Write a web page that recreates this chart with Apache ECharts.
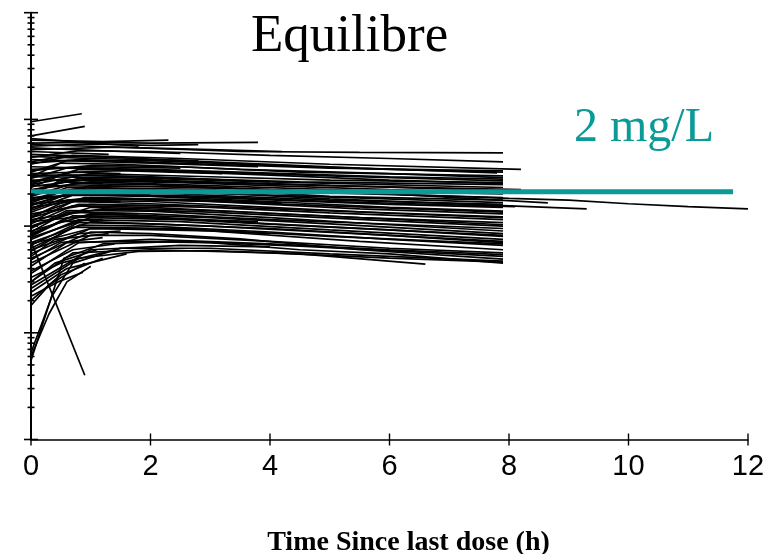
<!DOCTYPE html>
<html>
<head>
<meta charset="utf-8">
<script src="https://cdn.jsdelivr.net/npm/echarts@6/dist/echarts.min.js"></script>
<style>html,body{margin:0;padding:0;background:#fff;overflow:hidden;}#c{width:769px;height:554px;}</style>
</head>
<body>
<div id="c"></div>
<script>
// ---- texts ----
const chartTitle = 'Equilibre';
const targetLabel = '2 mg/L';
const xAxisName = 'Time Since last dose (h)';

// ---- axis ticks ----
const xTicks = [0, 2, 4, 6, 8, 10, 12];
const yDecades = [0.01, 0.1, 1, 10, 100];
const yMinorMult = [2, 3, 4, 5, 6, 7, 8, 9];

// ---- target concentration line ----
const targetTimes = [0, 11.75];
const targetConc = [2.1, 2.1];

// ---- individual profiles [time (h), concentration (mg/L)] ----
const upperProfiles = [
  [[0,9.5],[0.85,11.3]],
  [[0,7.0],[0.9,8.6]],
  [[0,6.4],[1.2,6.2],[2.3,6.4]],
  [[0,6.6],[1.8,5.6]],
  [[0,6.0],[1,6.1],[2,6.0],[3.8,6.1]],
  [[0,5.8],[1,5.6],[3.5,5.0],[5.5,4.9],[7.9,4.85]],
  [[0,4.4],[0.8,5.1],[2,5.0],[4,4.6],[6,4.3],[7.9,4.0]],
  [[0,3.8],[0.7,4.6],[2.5,4.3],[5,3.8],[8.2,3.4]],
  [[0,3.2],[0.6,4.1],[2,4.1],[4,3.7],[6,3.4],[7.9,3.2]],
  [[0,4.7],[1,4.5],[3,4.0],[5.5,3.5],[7.8,3.15]],
  [[0,2.9],[0.5,3.9],[1.5,3.8],[3.5,3.4],[6,3.1],[7.9,2.85]],
  [[0,3.6],[1,3.5],[3,3.2],[5,2.95],[7.9,2.65]],
  [[0,5.6],[1,5.9],[2,5.7],[2.8,5.8]],
  [[0,5.2],[1.4,5.5],[3,5.2],[4.2,5.0]]
];
const middleProfiles = [
  [[0,2.5],[0.8,3.4],[2,3.3],[4,3.0],[6,2.7],[7.9,2.5]],
  [[0,3.0],[1,3.0],[2.5,2.8],[4.5,2.6],[7.9,2.45]],
  [[0,2.3],[0.5,3.0],[2,2.9],[4,2.6],[7.9,2.3]],
  [[0,2.7],[1.5,2.7],[3,2.55],[5,2.4],[8.2,2.2]],
  [[0,2.2],[1,2.6],[3,2.4],[6,2.1],[7.9,2.0]],
  [[0,1.9],[0.7,2.5],[2,2.45],[4,2.2],[6,2.0],[8.65,1.65]],
  [[0,2.0],[1,2.3],[3,2.2],[5,1.9],[7.9,1.75]],
  [[0,1.7],[0.6,2.3],[2,2.2],[5,1.8],[9.3,1.45]],
  [[0,1.6],[0.8,2.1],[2.5,2.0],[5,1.75],[7.9,1.6]],
  [[0,1.85],[1,2.0],[3,1.9],[5,1.7],[8.1,1.52]],
  [[0,1.4],[0.7,1.95],[2,1.9],[4,1.7],[6,1.5],[7.9,1.38]],
  [[0,1.5],[1,1.8],[3,1.7],[5.5,1.45],[7.9,1.3]],
  [[0,1.2],[0.6,1.75],[2,1.7],[4,1.5],[6,1.32],[7.9,1.2]],
  [[0,1.3],[1,1.6],[3,1.5],[5,1.33],[7.9,1.15]],
  [[0,1.05],[0.7,1.55],[2,1.5],[4,1.32],[6,1.16],[7.9,1.03]],
  [[0,1.15],[1.2,1.45],[3,1.35],[6,1.12],[7.9,1.0]]
];
const denseProfiles = [
  [[0,4.5],[1,4.3],[2.8,4.1]],
  [[0,3.9],[0.8,4.2],[3,3.8],[5,3.5],[7.9,3.3]],
  [[0,3.3],[1,3.7],[2.5,3.6],[4.5,3.2],[7.9,2.95]],
  [[0,2.8],[0.6,3.5],[2,3.4],[6,2.9],[7.9,2.75]],
  [[0,2.45],[1,3.1],[3,2.9],[5,2.7],[7.9,2.55]],
  [[0,2.15],[0.8,2.8],[2,2.7],[4,2.5],[7.9,2.15]],
  [[0,1.95],[0.5,2.7],[2.5,2.55],[6,2.2],[7.9,2.05]],
  [[0,1.8],[1,2.4],[3,2.3],[5,2.05],[7.9,1.85]],
  [[0,1.55],[0.8,2.2],[2,2.1],[4,1.95],[7.9,1.66]],
  [[0,1.45],[0.6,2.0],[3,1.85],[6,1.6],[7.9,1.5]],
  [[0,1.25],[0.9,1.85],[2.5,1.75],[5,1.55],[7.9,1.35]],
  [[0,1.1],[0.7,1.7],[2,1.62],[4.5,1.42],[7.9,1.22]],
  [[0,0.98],[1,1.5],[3,1.4],[5.5,1.2],[7.9,1.08]],
  [[0,0.88],[0.6,1.35],[2,1.3],[4,1.15],[7.9,0.95]],
  [[0,0.78],[1,1.2],[2.5,1.15],[5,0.98],[7.9,0.82]],
  [[0,0.66],[0.8,1.08],[2,1.05],[4,0.95],[6,0.82],[7.9,0.7]],
  [[0,0.58],[0.7,0.98],[2.5,0.95],[5,0.8],[7.9,0.68]],
  [[0,0.45],[1,0.82],[2,0.82],[4,0.72],[6,0.62],[7.9,0.56]],
  [[0,0.36],[0.8,0.7],[2,0.75],[4,0.68],[6,0.6],[7.9,0.54]],
  [[0,0.28],[1,0.6],[2.5,0.66],[4,0.64]],
  [[0,3.1],[1.5,3.3],[3.2,3.1]],
  [[0,2.35],[1,2.75],[2.2,2.7]],
  [[0,1.65],[0.5,2.1],[1.8,2.05]],
  [[0,1.2],[0.8,1.6],[2.6,1.55]],
  [[0,0.82],[0.6,1.2],[1.7,1.25]],
  [[0,0.52],[0.4,0.75],[1.3,0.85]]
];
const lowerProfiles = [
  [[0,0.95],[0.6,1.4],[2,1.38],[4,1.2],[6,1.03],[7.9,0.9]],
  [[0,0.9],[1,1.3],[3,1.2],[5,1.05],[7.9,0.85]],
  [[0,0.8],[0.7,1.25],[2,1.22],[4,1.05],[6,0.92],[7.9,0.8]],
  [[0,0.75],[0.8,1.15],[2.5,1.1],[5,0.92],[7.9,0.75]],
  [[0,0.7],[1,1.1],[3,1.0],[6,0.82],[7.9,0.72]],
  [[0,0.62],[0.8,1.02],[2,1.0],[4,0.88],[6,0.75],[7.9,0.66]],
  [[0,0.55],[1,0.95],[3,0.9],[5.5,0.72],[7.9,0.6]],
  [[0,0.5],[1,0.88],[2,0.85],[3.5,0.76],[5.5,0.6],[7.9,0.49]],
  [[0,0.42],[0.6,0.7],[1.5,0.72],[3,0.7],[4.5,0.6],[6,0.55],[7.9,0.45]],
  [[0,0.26],[0.8,0.5],[1.8,0.58],[3,0.59],[4.5,0.55],[6.6,0.44]],
  [[0,0.3],[0.7,0.56],[2,0.6],[4,0.56],[6,0.5],[7.9,0.46]],
  [[0,0.055],[0.55,0.5],[1.2,0.68],[2.5,0.72],[4.5,0.65],[7.9,0.52]],
  [[0,0.065],[0.35,0.22],[0.7,0.45],[1.5,0.62],[3,0.62],[5,0.55],[7.9,0.47]]
];
const earlyProfiles = [
  [[0,0.72],[0.9,0.04]],
  [[0,0.33],[0.5,0.45],[1.5,0.62]],
  [[0,0.22],[0.45,0.3],[0.87,0.37]],
  [[0,0.2],[0.5,0.35],[1.2,0.5]],
  [[0,0.18],[0.3,0.28],[0.9,0.45]],
  [[0,0.06],[0.3,0.15],[0.6,0.3],[1,0.42]],
  [[0,5.0],[1.3,4.7]],
  [[0,4.0],[0.5,4.5],[1.5,4.4]],
  [[0,3.4],[1,3.6],[2.5,3.5]],
  [[0,2.6],[0.7,3.2],[1.5,3.1]],
  [[0,2.0],[0.5,2.6],[1.2,2.5]],
  [[0,1.75],[1,2.05],[2,1.95]],
  [[0,1.35],[0.5,1.7],[1.5,1.7]],
  [[0,1.0],[0.7,1.35],[1.8,1.3]],
  [[0,0.85],[0.5,1.1],[1.2,1.15]],
  [[0,0.6],[0.8,0.85],[1.5,0.9]],
  [[0,0.48],[0.5,0.7],[1.2,0.78]],
  [[0,0.38],[0.7,0.6],[1.4,0.68]],
  [[0,0.3],[0.4,0.45],[1.1,0.6]],
  [[0,0.24],[0.6,0.4],[1.6,0.55]],
  [[0,2.9],[1.5,2.85],[4,2.6]],
  [[0,4.2],[2,3.9],[3.8,3.6]],
  [[0,5.4],[1.5,5.0],[2.5,4.8]],
  [[0,1.1],[1,1.25],[3.8,1.1]],
  [[0,0.68],[1,0.95],[2.5,0.93],[4,0.85]],
  [[0,1.6],[1,1.85],[3,1.75],[4.2,1.65]]
];
const longProfiles = [
  [[0,2.4],[2,2.35],[4,2.2],[6,2.0],[8,1.82],[9,1.75],[10,1.62],[11,1.52],[12,1.45]]
];

// ---- build ----
const profiles = [].concat(upperProfiles, middleProfiles, denseProfiles, lowerProfiles, earlyProfiles, longProfiles);
const series = profiles.map(p => ({
  type: 'line', data: p, symbol: 'none', silent: true,
  lineStyle: { color: '#000', width: 1.7 }, z: 2
}));
series.push({
  type: 'line', data: targetTimes.map((t, i) => [t, targetConc[i]]), symbol: 'none', silent: true,
  lineStyle: { color: '#0A9A97', width: 5 }, z: 5
});
const yTickData = [];
yDecades.forEach((d, i) => {
  yTickData.push([0, d]);
  if (i < yDecades.length - 1) yMinorMult.forEach(m => yTickData.push([0, d * m]));
});
series.push({
  type: 'custom', coordinateSystem: 'cartesian2d', data: yTickData, clip: false, silent: true, z: 10,
  renderItem: (params, api) => {
    const v = api.value(1);
    const p = api.coord([api.value(0), v]);
    const lg = Math.log10(v);
    const major = Math.abs(lg - Math.round(lg)) < 1e-9;
    const h = major ? 7 : 3.5;
    return { type: 'line', shape: { x1: p[0] - h, y1: p[1], x2: p[0] + h, y2: p[1] }, style: { stroke: '#000', lineWidth: 1.6 } };
  }
});
series.push({
  type: 'custom', coordinateSystem: 'cartesian2d', data: xTicks.map(t => [t, yDecades[0]]), clip: false, silent: true, z: 10,
  renderItem: (params, api) => {
    const p = api.coord([api.value(0), api.value(1)]);
    return { type: 'line', shape: { x1: p[0], y1: p[1] - 6, x2: p[0], y2: p[1] + 6 }, style: { stroke: '#000', lineWidth: 1.4 } };
  }
});

const chart = echarts.init(document.getElementById('c'), null, { renderer: 'canvas', width: 769, height: 554 });
chart.setOption({
  animation: false,
  backgroundColor: '#fff',
  title: [
    { text: chartTitle, left: 251, top: 11, padding: 0,
      textStyle: { fontFamily: 'Liberation Serif', fontWeight: 'normal', fontSize: 53, color: '#000' } },
    { text: targetLabel, left: 574, top: 104, padding: 0,
      textStyle: { fontFamily: 'Liberation Serif', fontWeight: 'normal', fontSize: 48, color: '#0A9A97' } }
  ],
  grid: { left: 31, top: 12.7, width: 717, height: 426.8, containLabel: false, outerBoundsMode: 'none' },
  xAxis: {
    type: 'value', min: 0, max: 12, interval: 2,
    name: xAxisName, nameLocation: 'middle', nameGap: 89,
    nameTextStyle: { fontFamily: 'Liberation Serif', fontWeight: 'bold', fontSize: 28, color: '#000', padding: [0, 0, 0, 38] },
    axisLine: { lineStyle: { color: '#000', width: 1.5 } },
    axisTick: { show: false },
    splitLine: { show: false },
    axisLabel: { margin: 13, fontFamily: 'Liberation Sans', fontSize: 29, color: '#000' }
  },
  yAxis: {
    type: 'log', logBase: 10, min: 0.01, max: 100,
    axisLine: { show: true, lineStyle: { color: '#000', width: 2 } },
    axisTick: { show: false },
    axisLabel: { show: false },
    splitLine: { show: false }
  },
  series: series
});
</script>
</body>
</html>
